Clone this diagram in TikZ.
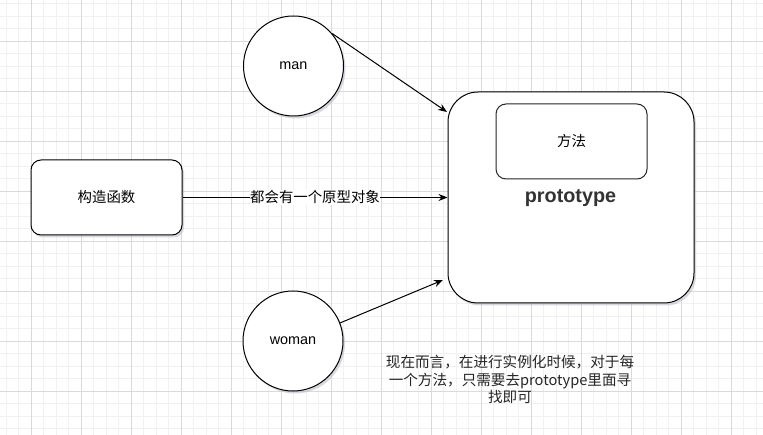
\documentclass[tikz,border=0pt]{standalone}
\usepackage{fontspec}
\setmainfont{Liberation Sans}
\newfontfamily\cjk{Noto Sans CJK SC}
\usetikzlibrary{arrows.meta,shadows}
\definecolor{gridminor}{HTML}{F1F1F1}
\definecolor{gridmajor}{HTML}{DADADA}
\definecolor{txtdark}{HTML}{333333}
\definecolor{shadowc}{HTML}{B8B8C8}
\begin{document}
\begin{tikzpicture}[x=1pt,y=-1pt,
  shad/.style={drop shadow={shadow xshift=2pt,shadow yshift=-2.5pt,fill=shadowc,opacity=0.55}},
  circ/.style={circle,draw=black,line width=1pt,fill=white,minimum size=100pt,inner sep=0pt,shad,font=\fontsize{14.4}{17}\selectfont},
  rbox/.style={draw=black,line width=1pt,fill=white,rounded corners=10pt,inner sep=0pt,shad},
  conn/.style={line width=1pt,-{Stealth[length=9pt,width=7pt]}},
  small/.style={font=\fontsize{14.4}{17}\selectfont}]
\useasboundingbox (0,0) rectangle (763,435);
\fill[white] (0,0) rectangle (763,435);
% grid
\foreach \i in {0,...,61} \draw[gridminor,line width=0.8pt] (6+12.5*\i,0) -- (6+12.5*\i,435);
\foreach \j in {0,...,35} \draw[gridminor,line width=0.8pt] (0,3.5+12.5*\j) -- (763,3.5+12.5*\j);
\foreach \i in {0,...,15} \draw[gridmajor,line width=0.8pt] (31+50*\i,0) -- (31+50*\i,435);
\foreach \j in {0,...,8} \draw[gridmajor,line width=0.8pt] (0,41+50*\j) -- (763,41+50*\j);
% nodes
\node[circ] (man) at (293.5,66) {man};
\node[circ] (woman) at (293,341) {woman};
\node[rbox,minimum width=151pt,minimum height=75pt,small] (ctor) at (106.5,197.5) {\cjk 构造函数};
\node[rbox,rounded corners=30pt,minimum width=246pt,minimum height=211pt] (proto) at (571,197.5) {};
\node[draw=black!85,line width=1pt,fill=white,rounded corners=10pt,minimum width=151pt,minimum height=75pt,inner sep=0pt,small] (method) at (571.5,141.5) {\cjk 方法};
\node[font=\bfseries\fontsize{19.8}{22}\selectfont,text=txtdark] (ptxt) at (570.5,198) {prototype};
% connectors
\coordinate (pin1) at (447,112);
\coordinate (pin3) at (443,280);
\draw[conn] (man.40) -- (pin1);
\draw[conn] (ctor.east) -- (proto.west) node[midway,fill=white,inner sep=0.5pt,small]{\cjk 都会有一个原型对象};
\draw[conn] (woman.21) -- (pin3);
% note
\node[align=center,text=black!85,inner sep=0pt,font=\cjk\fontsize{14.6}{17.5}\selectfont] (note) at (510,379.5) {现在而言，在进行实例化时候，对于每\\一个方法，只需要去prototype里面寻\\找即可};
\end{tikzpicture}
\end{document}
